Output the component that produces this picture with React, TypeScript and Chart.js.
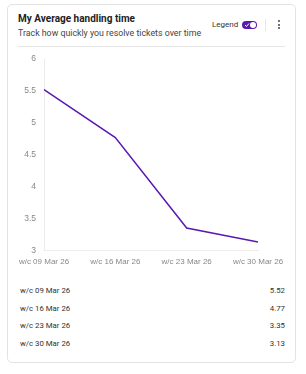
import React, { useEffect, useRef } from "react";
import { Chart, registerables } from "chart.js";

Chart.register(...registerables);

const weeks = ["w/c 09 Mar 26", "w/c 16 Mar 26", "w/c 23 Mar 26", "w/c 30 Mar 26"];
const handlingTime = [5.52, 4.77, 3.35, 3.13];
const yMin = 3;
const yMax = 6;
const yStep = 0.5;

const UI_FONT = "Roboto, 'Noto Sans', sans-serif";
const AXIS_FONT = "'Liberation Sans', Arial, sans-serif";
const PURPLE = "#5a1ab0";

function LineChart() {
  const ref = useRef<HTMLCanvasElement | null>(null);
  useEffect(() => {
    if (!ref.current) return;
    const chart = new Chart(ref.current, {
      type: "line",
      data: {
        labels: weeks,
        datasets: [
          {
            label: "Average handling time",
            data: handlingTime,
            borderColor: PURPLE,
            borderWidth: 1.5,
            pointRadius: 0,
            tension: 0,
            fill: false,
          },
        ],
      },
      options: {
        animation: false,
        responsive: false,
        maintainAspectRatio: false,
        layout: { padding: { top: 2, right: 28, bottom: 0, left: 0 } },
        plugins: { legend: { display: false }, tooltip: { enabled: false } },
        scales: {
          x: {
            offset: false,
            grid: { display: false, drawTicks: false },
            border: { display: true, color: "#ececec", width: 1 },
            afterFit: (scale: any) => {
              scale.paddingLeft = 0;
              scale.paddingRight = 0;
            },
            ticks: {
              color: "#888",
              font: { family: AXIS_FONT, size: 8 },
              padding: 7,
              maxRotation: 0,
              autoSkip: false,
            },
          },
          y: {
            min: yMin,
            max: yMax,
            grid: { display: false, drawTicks: false },
            border: { display: true, color: "#ececec", width: 1 },
            afterFit: (scale: any) => {
              scale.width = 32;
            },
            ticks: {
              stepSize: yStep,
              color: "#888",
              font: { family: AXIS_FONT, size: 8.5 },
              padding: 8,
              callback: (v: any) => String(Number(v)),
            },
          },
        },
      },
    });
    return () => chart.destroy();
  }, []);
  return (
    <canvas
      ref={ref}
      width={274}
      height={228}
      style={{ position: "absolute", left: 4, top: 41, width: 274, height: 228 }}
    />
  );
}

export default function App() {
  return (
    <div
      style={{
        position: "absolute",
        left: 7,
        top: 4,
        width: 287,
        height: 357,
        border: "1px solid #e3e3e3",
        borderRadius: 5,
        background: "#fff",
        fontFamily: UI_FONT,
        color: "#222",
      }}
    >
      <div style={{ position: "absolute", left: 10, top: 8, fontSize: 10, fontWeight: 700, color: "#222" }}>
        My Average handling time
      </div>
      <div style={{ position: "absolute", left: 10, top: 23, fontSize: 8.8, color: "#444" }}>
        Track how quickly you resolve tickets over time
      </div>
      <div style={{ position: "absolute", left: 204, top: 15, fontSize: 8, color: "#333", fontWeight: 400 }}>
        Legend
      </div>
      {/* toggle switch */}
      <div
        style={{
          position: "absolute",
          left: 234,
          top: 16,
          width: 15,
          height: 8,
          borderRadius: 4,
          background: PURPLE,
        }}
      >
        <div
          style={{
            position: "absolute",
            right: 1,
            top: 1,
            width: 6,
            height: 6,
            borderRadius: 3,
            background: "#fff",
          }}
        />
        <svg width="6" height="6" style={{ position: "absolute", left: 2, top: 1 }}>
          <path d="M1 3 L2.5 4.5 L5 1.5" stroke="#fff" strokeWidth="1" fill="none" />
        </svg>
      </div>
      <div style={{ position: "absolute", left: 257, top: 14, width: 1, height: 12, background: "#e6e6e6" }} />
      {/* kebab menu */}
      {[0, 1, 2].map((i) => (
        <div
          key={i}
          style={{
            position: "absolute",
            left: 270,
            top: 15 + i * 3.5,
            width: 2,
            height: 2,
            borderRadius: 1,
            background: "#444",
          }}
        />
      ))}
      <div style={{ position: "absolute", left: 10, top: 41, width: 267, height: 1, background: "#e6e6e6" }} />
      <LineChart />
      {weeks.map((w, i) => (
        <div
          key={w}
          style={{
            position: "absolute",
            left: 12,
            width: 265,
            top: 281 + i * 17.7,
            fontSize: 7.8,
            color: "#333",
            display: "flex",
            justifyContent: "space-between",
          }}
        >
          <span>{w}</span>
          <span>{handlingTime[i].toFixed(2)}</span>
        </div>
      ))}
    </div>
  );
}
